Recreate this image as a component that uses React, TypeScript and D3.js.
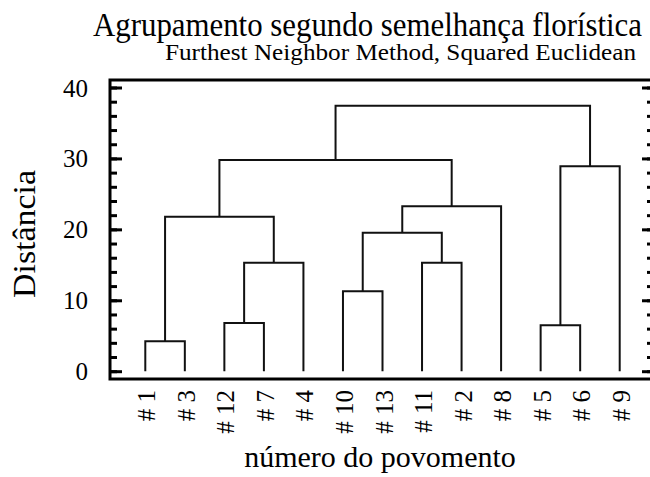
import React, { useEffect, useRef } from "react";
import * as d3 from "d3";

// leaf order along the x axis
const leaves = ["1", "3", "12", "7", "4", "10", "13", "11", "2", "8", "5", "6", "9"];
// merges: left child, right child, distance ("cN" = result of merge N)
const mergeLeft = ["1", "12", "c1", "c0", "10", "11", "c4", "c6", "c3", "5", "c9", "c8"];
const mergeRight = ["3", "7", "4", "c2", "13", "2", "c5", "8", "c7", "6", "9", "c10"];
const mergeDist = [4.23, 6.81, 15.28, 21.77, 11.29, 15.28, 19.51, 23.24, 29.77, 6.49, 28.88, 37.43];
const yTicks = [0, 10, 20, 30, 40];
const yMinorTicks = d3.range(0, 41, 2);

const FONT = "'Liberation Serif', 'Times New Roman', serif";

export default function App() {
  const ref = useRef<SVGSVGElement>(null);

  useEffect(() => {
    const svg = d3.select(ref.current);
    svg.selectAll("*").remove();

    const frame = { left: 110, right: 654, top: 80, bottom: 379 };

    const x = d3.scalePoint<string>().domain(leaves).range([145.3, 619.7]);
    const y = d3.scaleLinear().domain([0, 40]).range([371.2, 87.5]);

    // node positions
    const pos: Record<string, { x: number; h: number }> = {};
    leaves.forEach((l) => (pos[l] = { x: x(l) as number, h: 0 }));

    const g = svg.append("g");
    mergeDist.forEach((d, i) => {
      const a = pos[mergeLeft[i]];
      const b = pos[mergeRight[i]];
      const p = d3.path();
      p.moveTo(a.x, y(a.h));
      p.lineTo(a.x, y(d));
      p.lineTo(b.x, y(d));
      p.lineTo(b.x, y(b.h));
      g.append("path")
        .attr("d", p.toString())
        .attr("fill", "none")
        .attr("stroke", "#111")
        .attr("stroke-width", 2);
      pos["c" + i] = { x: (a.x + b.x) / 2, h: d };
    });

    // frame
    svg
      .append("rect")
      .attr("x", frame.left)
      .attr("y", frame.top)
      .attr("width", frame.right - frame.left)
      .attr("height", frame.bottom - frame.top)
      .attr("fill", "none")
      .attr("stroke", "#000")
      .attr("stroke-width", 3);

    // ticks point inward on both sides
    const minorL = d3.axisRight(y).tickValues(yMinorTicks).tickSize(7).tickFormat(() => "");
    const majorL = d3.axisRight(y).tickValues(yTicks).tickSize(12).tickFormat(() => "");
    const minorR = d3.axisLeft(y).tickValues(yMinorTicks).tickSize(7).tickFormat(() => "");
    const majorR = d3.axisLeft(y).tickValues(yTicks).tickSize(12).tickFormat(() => "");
    [minorL, majorL].forEach((ax) => {
      const a = svg.append("g").attr("transform", `translate(${frame.left},0)`).call(ax);
      a.select(".domain").remove();
      a.selectAll("line").attr("stroke", "#000").attr("stroke-width", 3);
    });
    [minorR, majorR].forEach((ax) => {
      const a = svg.append("g").attr("transform", `translate(${frame.right},0)`).call(ax);
      a.select(".domain").remove();
      a.selectAll("line").attr("stroke", "#000").attr("stroke-width", 3);
    });

    // y tick labels
    svg
      .selectAll("text.ytick")
      .data(yTicks)
      .enter()
      .append("text")
      .attr("class", "ytick")
      .attr("x", 88)
      .attr("y", (d) => y(d) + 9)
      .attr("text-anchor", "end")
      .style("font-family", FONT)
      .style("font-size", "25px")
      .text((d) => d);

    // x leaf labels, rotated
    svg
      .selectAll("text.leaf")
      .data(leaves)
      .enter()
      .append("text")
      .attr("class", "leaf")
      .attr("transform", (d) => `translate(${(x(d) as number) + 10},390) rotate(-90)`)
      .attr("text-anchor", "end")
      .style("font-family", FONT)
      .style("font-size", "25px")
      .text((d) => "# " + d);

    // titles
    svg
      .append("text")
      .attr("x", 93)
      .attr("y", 36)
      .attr("textLength", 549)
      .attr("lengthAdjust", "spacingAndGlyphs")
      .style("font-family", FONT)
      .style("font-size", "34px")
      .text("Agrupamento segundo semelhança florística");
    svg
      .append("text")
      .attr("x", 165)
      .attr("y", 60)
      .attr("textLength", 471)
      .attr("lengthAdjust", "spacingAndGlyphs")
      .style("font-family", FONT)
      .style("font-size", "24px")
      .text("Furthest Neighbor Method, Squared Euclidean");

    svg
      .append("text")
      .attr("transform", "translate(35,234) rotate(-90)")
      .attr("text-anchor", "middle")
      .attr("textLength", 128)
      .attr("lengthAdjust", "spacingAndGlyphs")
      .style("font-family", FONT)
      .style("font-size", "31px")
      .text("Distância");

    svg
      .append("text")
      .attr("x", 380)
      .attr("y", 467)
      .attr("text-anchor", "middle")
      .style("font-family", FONT)
      .style("font-size", "30px")
      .text("número do povomento");
  }, []);

  return (
    <svg
      ref={ref}
      width={650}
      height={477}
      style={{ position: "absolute", left: 0, top: 0, background: "#fff" }}
    ></svg>
  );
}
